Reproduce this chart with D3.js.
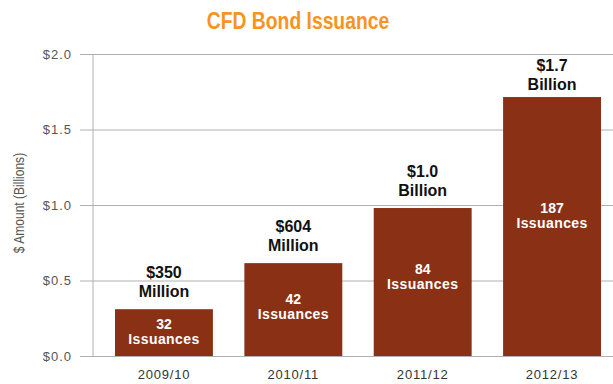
<!DOCTYPE html>
<html>
<head>
<meta charset="utf-8">
<script src="https://cdn.jsdelivr.net/npm/d3@7"></script>
<style>
  body { margin: 0; background: #fff; }
  svg { display: block; font-family: "Liberation Sans", Arial, sans-serif; }
</style>
</head>
<body>
<div id="chart"></div>
<script>
'use strict';

// Chart data
var years = ['2009/10', '2010/11', '2011/12', '2012/13'];
var amounts = [0.31, 0.615, 0.98, 1.715];          // $ billions, as drawn
var amountLabels = ['$350', '$604', '$1.0', '$1.7'];
var unitLabels = ['Million', 'Million', 'Billion', 'Billion'];
var issuances = [32, 42, 84, 187];
var yTicks = [0, 0.5, 1.0, 1.5, 2.0];

var width = 613, height = 384;
var margin = { top: 54, right: 0, bottom: 28, left: 93 };

var svg = d3.select('#chart').append('svg')
  .attr('width', width)
  .attr('height', height);

// Scales
var x = d3.scaleBand()
  .domain(years)
  .range([margin.left, 623])
  .paddingInner(0.243)
  .paddingOuter(0.17);

var y = d3.scaleLinear()
  .domain([0, 2])
  .range([height - margin.bottom, margin.top]);

// Title (condensed look via horizontal scale)
svg.append('text')
  .attr('transform', 'translate(298,29) scale(0.84,1)')
  .attr('text-anchor', 'middle')
  .attr('fill', '#f7941d')
  .style('font-weight', 'bold')
  .style('font-size', '23px')
  .text('CFD Bond Issuance');

// Grid lines + y axis
var yAxis = d3.axisLeft(y)
  .tickValues(yTicks)
  .tickSize(-(width - margin.left + 13))
  .tickPadding(8)
  .tickFormat(function(d) { return '$' + d3.format('.1f')(d); });

var gy = svg.append('g')
  .attr('transform', 'translate(' + (margin.left - 13) + ',0)')
  .call(yAxis);
gy.select('.domain').remove();
gy.selectAll('.tick line')
  .attr('stroke', '#b0b0b0')
  .attr('stroke-width', 1);
gy.selectAll('.tick text')
  .attr('fill', '#555')
  .style('font-size', '13px')
  .style('letter-spacing', '1px');

// Left vertical axis line
svg.append('line')
  .attr('x1', margin.left).attr('x2', margin.left)
  .attr('y1', y(2)).attr('y2', y(0))
  .attr('stroke', '#b0b0b0');

// Y axis title
svg.append('text')
  .attr('transform', 'translate(24,' + (y(1) - 2) + ') rotate(-90) scale(0.86,1)')
  .attr('text-anchor', 'middle')
  .attr('fill', '#555')
  .style('font-size', '14px')
  .text('$ Amount (Billions)');

// Bars
var bars = svg.selectAll('.bar-group')
  .data(years)
  .enter().append('g')
  .attr('class', 'bar-group');

bars.append('rect')
  .attr('x', function(d) { return x(d); })
  .attr('y', function(d, i) { return y(amounts[i]); })
  .attr('width', x.bandwidth())
  .attr('height', function(d, i) { return y(0) - y(amounts[i]); })
  .attr('fill', '#8a3115');

// Amount labels above bars
bars.append('text')
  .attr('x', function(d) { return x(d) + x.bandwidth() / 2; })
  .attr('y', function(d, i) { return y(amounts[i]) - (i === 3 ? 26 : 31); })
  .attr('text-anchor', 'middle')
  .attr('fill', '#111')
  .style('font-weight', 'bold')
  .style('font-size', '16px')
  .text(function(d, i) { return amountLabels[i]; });

bars.append('text')
  .attr('x', function(d) { return x(d) + x.bandwidth() / 2; })
  .attr('y', function(d, i) { return y(amounts[i]) - (i === 3 ? 7 : 12); })
  .attr('text-anchor', 'middle')
  .attr('fill', '#111')
  .style('font-weight', 'bold')
  .style('font-size', '16px')
  .text(function(d, i) { return unitLabels[i]; });

// Issuance counts inside bars
bars.append('text')
  .attr('x', function(d) { return x(d) + x.bandwidth() / 2; })
  .attr('y', function(d, i) { return y(amounts[i] * 0.55) - 1; })
  .attr('text-anchor', 'middle')
  .attr('fill', '#fff')
  .style('font-weight', 'bold')
  .style('font-size', '14px')
  .text(function(d, i) { return issuances[i]; });

bars.append('text')
  .attr('x', function(d) { return x(d) + x.bandwidth() / 2; })
  .attr('y', function(d, i) { return y(amounts[i] * 0.55) + 14; })
  .attr('text-anchor', 'middle')
  .attr('fill', '#fff')
  .style('font-weight', 'bold')
  .style('font-size', '14px')
  .style('letter-spacing', '0.4px')
  .text('Issuances');

// X labels
svg.append('g').selectAll('text')
  .data(years)
  .enter().append('text')
  .attr('x', function(d) { return x(d) + x.bandwidth() / 2; })
  .attr('y', 379)
  .attr('text-anchor', 'middle')
  .attr('fill', '#333')
  .style('font-size', '13px')
  .style('letter-spacing', '0.8px')
  .text(function(d) { return d; });
</script>
</body>
</html>
